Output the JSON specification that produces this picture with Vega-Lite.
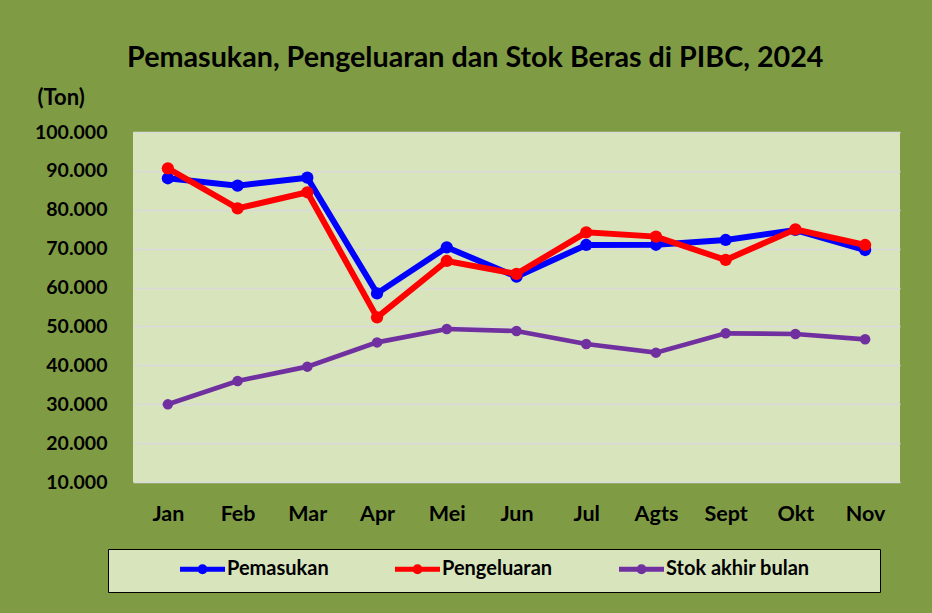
{
  "$schema": "https://vega.github.io/schema/vega-lite/v6.json",
  "width": 767,
  "height": 350,
  "autosize": {"type": "none"},
  "padding": {"left": 133, "top": 132, "right": 32, "bottom": 131},
  "background": "#7f9c45",
  "config": {
    "view": {"fill": "#d8e4bc", "stroke": null},
    "font": "Lato"
  },
  "title": {
    "text": "Pemasukan, Pengeluaran dan Stok Beras di PIBC, 2024",
    "font": "Lato",
    "fontSize": 28.7,
    "fontWeight": "bold",
    "color": "#000000",
    "anchor": "middle",
    "frame": "bounds",
    "dx": 8,
    "offset": 13
  },
  "data": {
    "values": [
      {"bulan": "Jan", "seri": "Pemasukan", "ton": 88100},
      {"bulan": "Feb", "seri": "Pemasukan", "ton": 86200},
      {"bulan": "Mar", "seri": "Pemasukan", "ton": 88250},
      {"bulan": "Apr", "seri": "Pemasukan", "ton": 58500},
      {"bulan": "Mei", "seri": "Pemasukan", "ton": 70350},
      {"bulan": "Jun", "seri": "Pemasukan", "ton": 62800},
      {"bulan": "Jul", "seri": "Pemasukan", "ton": 70950},
      {"bulan": "Agts", "seri": "Pemasukan", "ton": 71000},
      {"bulan": "Sept", "seri": "Pemasukan", "ton": 72230},
      {"bulan": "Okt", "seri": "Pemasukan", "ton": 74800},
      {"bulan": "Nov", "seri": "Pemasukan", "ton": 69650},
      {"bulan": "Jan", "seri": "Pengeluaran", "ton": 90650},
      {"bulan": "Feb", "seri": "Pengeluaran", "ton": 80370},
      {"bulan": "Mar", "seri": "Pengeluaran", "ton": 84500},
      {"bulan": "Apr", "seri": "Pengeluaran", "ton": 52340},
      {"bulan": "Mei", "seri": "Pengeluaran", "ton": 66830},
      {"bulan": "Jun", "seri": "Pengeluaran", "ton": 63500},
      {"bulan": "Jul", "seri": "Pengeluaran", "ton": 74200},
      {"bulan": "Agts", "seri": "Pengeluaran", "ton": 73100},
      {"bulan": "Sept", "seri": "Pengeluaran", "ton": 67100},
      {"bulan": "Okt", "seri": "Pengeluaran", "ton": 74970},
      {"bulan": "Nov", "seri": "Pengeluaran", "ton": 70950},
      {"bulan": "Jan", "seri": "Stok akhir bulan", "ton": 29970},
      {"bulan": "Feb", "seri": "Stok akhir bulan", "ton": 35970},
      {"bulan": "Mar", "seri": "Stok akhir bulan", "ton": 39660},
      {"bulan": "Apr", "seri": "Stok akhir bulan", "ton": 45900},
      {"bulan": "Mei", "seri": "Stok akhir bulan", "ton": 49340},
      {"bulan": "Jun", "seri": "Stok akhir bulan", "ton": 48830},
      {"bulan": "Jul", "seri": "Stok akhir bulan", "ton": 45490},
      {"bulan": "Agts", "seri": "Stok akhir bulan", "ton": 43260},
      {"bulan": "Sept", "seri": "Stok akhir bulan", "ton": 48230},
      {"bulan": "Okt", "seri": "Stok akhir bulan", "ton": 48060},
      {"bulan": "Nov", "seri": "Stok akhir bulan", "ton": 46690}
    ]
  },
  "encoding": {
    "x": {
      "field": "bulan",
      "type": "ordinal",
      "sort": ["Jan", "Feb", "Mar", "Apr", "Mei", "Jun", "Jul", "Agts", "Sept", "Okt", "Nov"],
      "scale": {"type": "point", "padding": 0.5},
      "axis": {
        "title": null,
        "labelAngle": 0,
        "labelFont": "Lato",
        "labelFontSize": 21.5,
        "labelFontWeight": "bold",
        "labelColor": "#000000",
        "labelPadding": 21,
        "domain": false,
        "ticks": false,
        "grid": false
      }
    },
    "y": {
      "field": "ton",
      "type": "quantitative",
      "scale": {"domain": [10000, 100000], "nice": false, "zero": false},
      "axis": {
        "title": "(Ton)",
        "titleAngle": 0,
        "titleAlign": "left",
        "titleBaseline": "alphabetic",
        "titleX": -96,
        "titleY": -28,
        "titleFont": "Lato",
        "titleFontSize": 22,
        "titleFontWeight": "bold",
        "titleColor": "#000000",
        "values": [10000, 20000, 30000, 40000, 50000, 60000, 70000, 80000, 90000, 100000],
        "labelExpr": "replace(format(datum.value, ','), ',', '.')",
        "labelFont": "Lato",
        "labelFontSize": 19.5,
        "labelFontWeight": "bold",
        "labelColor": "#000000",
        "labelPadding": 26,
        "domain": false,
        "ticks": false,
        "grid": true,
        "gridColor": "#d9d9d9",
        "gridWidth": 1.5
      }
    },
    "color": {
      "field": "seri",
      "type": "nominal",
      "scale": {
        "domain": ["Pemasukan", "Pengeluaran", "Stok akhir bulan"],
        "range": ["#0000ff", "#ff0000", "#7030a0"]
      },
      "legend": {
        "orient": "none",
        "legendX": -25,
        "legendY": 417,
        "direction": "horizontal",
        "title": "00000",
        "titleOrient": "left",
        "titleFont": "Lato",
        "titleFontSize": 16,
        "titleColor": "rgba(0,0,0,0)",
        "titlePadding": 10,
        "fillColor": "#d8e4bc",
        "strokeColor": "#000000",
        "padding": 10,
        "columnPadding": 56,
        "symbolType": "M-1,0L8,0M3,0A0.5,0.5 0 1,0 4,0A0.5,0.5 0 1,0 3,0",
        "symbolSize": 100,
        "symbolStrokeWidth": 5,
        "symbolOpacity": 1,
        "labelOffset": 32,
        "labelFont": "Lato",
        "labelFontSize": 20,
        "labelFontWeight": "bold",
        "labelColor": "#000000",
        "labelLimit": 400,
        "labelExpr": "datum.label == 'Stok akhir bulan' ? datum.label + '\u2800\u2800\u2800\u2800' : datum.label"
      }
    }
  },
  "layer": [
    {"transform": [{"filter": "datum.seri == 'Pemasukan'"}], "mark": {"type": "line", "strokeWidth": 6}},
    {"transform": [{"filter": "datum.seri == 'Pemasukan'"}], "mark": {"type": "circle", "size": 150, "opacity": 1}},
    {"transform": [{"filter": "datum.seri == 'Pengeluaran'"}], "mark": {"type": "line", "strokeWidth": 6}},
    {"transform": [{"filter": "datum.seri == 'Pengeluaran'"}], "mark": {"type": "circle", "size": 150, "opacity": 1}},
    {"transform": [{"filter": "datum.seri == 'Stok akhir bulan'"}], "mark": {"type": "line", "strokeWidth": 4.7}},
    {"transform": [{"filter": "datum.seri == 'Stok akhir bulan'"}], "mark": {"type": "circle", "size": 110, "opacity": 1}}
  ]
}
